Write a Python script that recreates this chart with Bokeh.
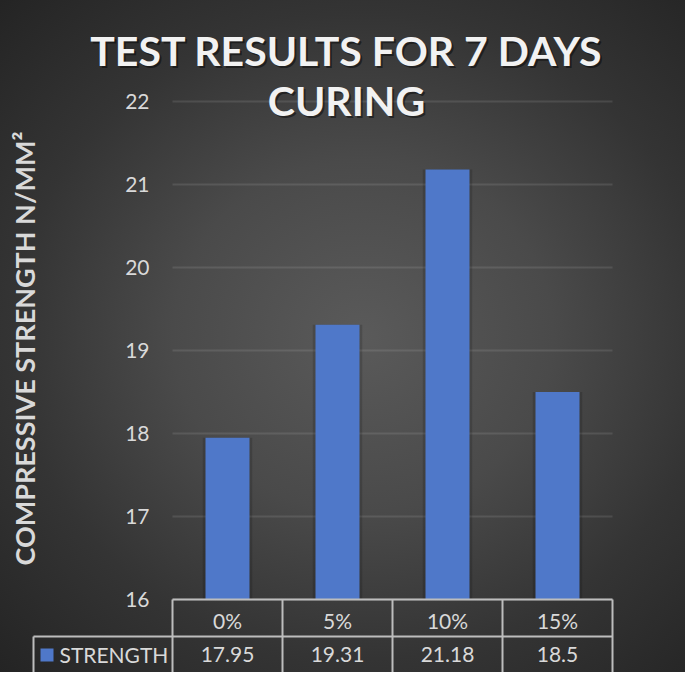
import math
from bokeh.plotting import figure
from bokeh.models import Range1d, ColumnDataSource
from bokeh.core.properties import value
from bokeh.embed import file_html
from bokeh.resources import INLINE

# ---------------- data ----------------
categories = ["0%", "5%", "10%", "15%"]
strength = [17.95, 19.31, 21.18, 18.5]
strength_labels = ["17.95", "19.31", "21.18", "18.5"]
y_ticks = [16, 17, 18, 19, 20, 21, 22]
y_tick_labels = ["16", "17", "18", "19", "20", "21", "22"]
series_name = "STRENGTH"
title_lines = ["TEST RESULTS FOR 7 DAYS", "CURING"]
y_title = "COMPRESSIVE STRENGTH N/MM²"

# ---------------- layout (figure px, top-left origin) ----------------
W, H = 685, 672
PL, PR, PT, PB = 172, 612, 101, 599      # plot area (category band / value axis)
Y0, Y1 = y_ticks[0], y_ticks[-1]
NC = len(categories)
XU = (PR - PL) / NC                      # px per category
YU = (PB - PT) / (Y1 - Y0)               # px per value unit
FONT = "Lato"
TXT = "#d9d9d9"
LINEC = "#bdbdbd"
BAR = "#4f78c9"


def dx(px):
    return (px - PL) / XU


def dy(py):
    return Y0 + (PB - py) / YU


x_pos = [i + 0.5 for i in range(NC)]     # category centres (category units)

p = figure(x_range=Range1d(dx(0), dx(W)), y_range=Range1d(dy(H), dy(0)),
           width=W, height=H, output_backend="svg", toolbar_location=None,
           min_border=0, min_border_left=0, min_border_right=0,
           min_border_top=0, min_border_bottom=0)
p.axis.visible = False
p.grid.visible = False
p.background_fill_alpha = 0
p.border_fill_alpha = 0
p.outline_line_color = None
p.styles = {"background": "radial-gradient(ellipse farthest-corner at 53% 50%, "
                          "#5a5a5a 0%, #4a4a4a 37%, #343434 68%, #242424 100%)"}

# value gridlines (only across the plot area)
p.segment(x0=[0] * len(y_ticks), x1=[NC] * len(y_ticks), y0=y_ticks, y1=y_ticks,
          line_color=TXT, line_alpha=0.13, line_width=2)

# value tick labels
p.text(x=[dx(149)] * len(y_ticks), y=y_ticks, text=y_tick_labels,
       text_align="right", text_baseline="middle", text_font=value(FONT),
       text_font_size="21px", text_color=TXT)

# value axis title
p.text(x=[dx(24)], y=[dy(348)], text=[y_title], angle=math.pi / 2,
       text_align="center", text_baseline="middle", text_font=value(FONT),
       text_font_size="27px", text_font_style="bold", text_color=TXT)

# bars (soft shadow + bar)
src = ColumnDataSource(dict(x=x_pos, val=strength))
p.vbar(x="x", top="val", bottom=Y0, width=0.45, source=src,
       fill_color="black", fill_alpha=0.15, line_color=None)
p.vbar(x="x", top="val", bottom=Y0, width=0.4, source=src,
       fill_color=BAR, line_color=None)

# data table
y_row = dy(636)
y_bot = dy(H + 4)
x_left = dx(33)
p.segment(x0=[0], x1=[NC], y0=[Y0], y1=[Y0], line_color=LINEC, line_width=2)
p.segment(x0=[x_left], x1=[NC], y0=[y_row], y1=[y_row], line_color=LINEC, line_width=2)
p.segment(x0=list(range(NC + 1)), x1=list(range(NC + 1)), y0=[Y0] * (NC + 1),
          y1=[y_bot] * (NC + 1), line_color=LINEC, line_width=2)
p.segment(x0=[x_left], x1=[x_left], y0=[y_row], y1=[y_bot], line_color=LINEC, line_width=2)

# header row: categories
p.text(x=x_pos, y=[dy(620)] * NC, text=categories, text_align="center",
       text_baseline="middle", text_font=value(FONT), text_font_size="21px",
       text_color=TXT)
# values row
p.text(x=x_pos, y=[dy(654)] * NC, text=strength_labels, text_align="center",
       text_baseline="middle", text_font=value(FONT), text_font_size="21px",
       text_color=TXT)
# legend key + series name
p.rect(x=[dx(46.5)], y=[dy(654.5)], width=13, height=13, width_units="screen",
       height_units="screen", fill_color=BAR, line_color=None)
p.text(x=[dx(59)], y=[dy(654)], text=[series_name], text_align="left",
       text_baseline="middle", text_font=value(FONT), text_font_size="21px",
       text_color=TXT)

# title (two lines, soft shadow)
p.text(x=[dx(346)] * 2, y=[dy(50), dy(100)], text=title_lines, text_align="center",
       text_baseline="middle", text_font=value(FONT), text_font_size="41px",
       text_font_style="bold", text_color="black", text_alpha=0.45,
       x_offset=2, y_offset=2)
p.text(x=[dx(346)] * 2, y=[dy(50), dy(100)], text=title_lines, text_align="center",
       text_baseline="middle", text_font=value(FONT), text_font_size="41px",
       text_font_style="bold", text_color="#f2f2f2")

open("out.html", "w").write(file_html(p, INLINE))
